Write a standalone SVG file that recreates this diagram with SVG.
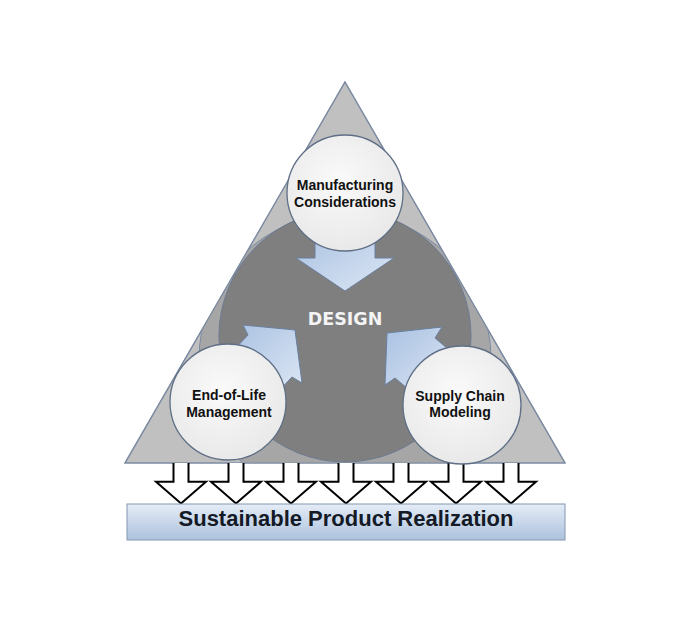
<svg xmlns="http://www.w3.org/2000/svg" width="700" height="630" viewBox="0 0 700 630">
<style>
.node circle{fill:url(#nodeFill);stroke:#5f6f86;stroke-width:1.3}
.lbl{font-family:"Liberation Sans",Arial,sans-serif;font-weight:bold;font-size:14px;fill:#111;text-anchor:middle}
.blue{fill:url(#arrowFill);stroke:#6a7f9e;stroke-width:1;stroke-linejoin:miter}
.hollow{fill:#fff;stroke:#000;stroke-width:2;stroke-linejoin:miter}
</style>
<defs>
<radialGradient id="nodeFill" cx="0.45" cy="0.4" r="0.7">
<stop offset="0" stop-color="#fafafa"/>
<stop offset="1" stop-color="#e6e6e6"/>
</radialGradient>
<linearGradient id="arrowFill" x1="0" y1="0" x2="1" y2="1">
<stop offset="0" stop-color="#a9c1e2"/>
<stop offset="1" stop-color="#dde7f4"/>
</linearGradient>
<linearGradient id="barFill" x1="0" y1="0" x2="0" y2="1">
<stop offset="0" stop-color="#e4ecf6"/>
<stop offset="1" stop-color="#adc2de"/>
</linearGradient>
<clipPath id="triClip"><polygon points="345,82 565,463 125,463"/></clipPath>
</defs>
<rect width="700" height="630" fill="#fff"/>
<g id="triangle">
<polygon points="345,82 565,463 125,463" fill="#c0c0c0" stroke="#7d8ca3" stroke-width="1.2"/>
<circle cx="345" cy="359" r="146" fill="#a6a6a6" stroke="#7b8ba3" stroke-width="1" clip-path="url(#triClip)"/>
<polygon points="345,82 565,463 125,463" fill="none" stroke="#7d8ca3" stroke-width="1.2"/>
</g>
<g id="design">
<circle cx="345" cy="336" r="126" fill="#7f7f7f" stroke="#6b7a90" stroke-width="1"/>
<text x="345" y="325" font-family="'DejaVu Sans',Verdana,sans-serif" font-weight="bold" font-size="17.5" fill="#f4f4f4" text-anchor="middle">DESIGN</text>
</g>
<g id="connectors">
<polygon class="blue" points="315,230 375,230 375,258 394,258 345,291 296,258 315,258"/>
<polygon class="blue" points="231,353 248,335 243,325 295,330 302,383 292,377 275,395"/>
<polygon class="blue" points="387,333 442,327 435,338 454,354 414,394 395,378 385,385"/>
<path class="hollow" d="M173.5,463 V481.7 H156 L181,503.5 L206,481.7 H188.5 V463"/>
<path class="hollow" d="M228.5,463 V481.7 H211 L236,503.5 L261,481.7 H243.5 V463"/>
<path class="hollow" d="M283.5,463 V481.7 H266 L291,503.5 L316,481.7 H298.5 V463"/>
<path class="hollow" d="M338.5,463 V481.7 H321 L346,503.5 L371,481.7 H353.5 V463"/>
<path class="hollow" d="M393.5,463 V481.7 H376 L401,503.5 L426,481.7 H408.5 V463"/>
<path class="hollow" d="M448.5,463 V481.7 H431 L456,503.5 L481,481.7 H463.5 V463"/>
<path class="hollow" d="M503.5,463 V481.7 H486 L511,503.5 L536,481.7 H518.5 V463"/>
</g>
<g id="manufacturing" class="node">
<circle cx="345" cy="193" r="58"/>
<text class="lbl" x="345" y="190">Manufacturing</text>
<text class="lbl" x="345" y="207">Considerations</text>
</g>
<g id="end-of-life" class="node">
<circle cx="228" cy="402" r="58"/>
<text class="lbl" x="229" y="400">End-of-Life</text>
<text class="lbl" x="229" y="417">Management</text>
</g>
<g id="supply-chain" class="node">
<circle cx="462" cy="405" r="59"/>
<text class="lbl" x="460" y="401">Supply Chain</text>
<text class="lbl" x="460" y="417">Modeling</text>
</g>
<g id="realization">
<rect x="127" y="504" width="438" height="36" fill="url(#barFill)" stroke="#8497b0" stroke-width="1"/>
<text x="346" y="526" font-family="'Liberation Sans',Arial,sans-serif" font-weight="bold" font-size="22" fill="#141a26" text-anchor="middle">Sustainable Product Realization</text>
</g>
</svg>
